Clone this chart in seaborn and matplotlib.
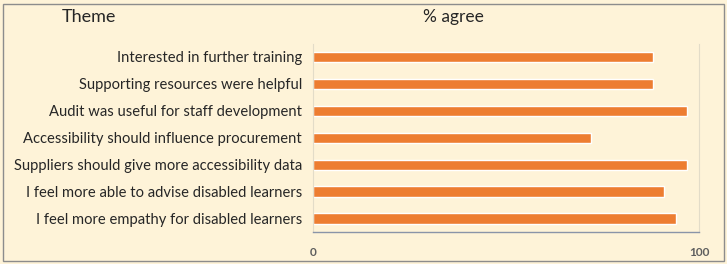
import matplotlib
matplotlib.use("Agg")
import matplotlib.pyplot as plt
import seaborn as sns
import pandas as pd
from matplotlib.patches import Rectangle

themes = [
    "Interested in further training",
    "Supporting resources were helpful",
    "Audit was useful for staff development",
    "Accessibility should influence procurement",
    "Suppliers should give more accessibility data",
    "I feel more able to advise disabled learners",
    "I feel more empathy for disabled learners",
]
agree = [88, 88, 97, 72, 97, 91, 94]
tick_values = [0, 10, 20, 30, 40, 50, 60, 70, 80, 90, 100]
tick_labels = ["0", "", "", "", "", "", "", "", "", "", "100"]

df = pd.DataFrame({"Theme": themes, "agree": agree})

sns.set_theme(style="white")
plt.rcParams["font.family"] = ["Lato", "DejaVu Sans"]

bg = "#FEF3D8"
fig = plt.figure(figsize=(7.27, 2.64), dpi=100, facecolor=bg)
ax = fig.add_axes([313 / 727, 1 - 232 / 264, (699 - 313) / 727, (232 - 43.5) / 264])
ax.set_facecolor(bg)

sns.barplot(data=df, x="agree", y="Theme", order=themes, color="#ED7D31",
            saturation=1, width=0.38, ax=ax)

ax.set_xlim(0, 100)
ax.set_ylim(6.5, -0.5)
ax.set_xticks(tick_values)
ax.set_xticklabels(tick_labels, fontsize=8.5, color="#5E5E5E", fontweight="bold")
ax.tick_params(axis="x", direction="in", length=3, width=0.8, color="#8A94A8", pad=11)
ax.tick_params(axis="y", length=0, labelsize=10.6, labelcolor="#262626", pad=8)
ax.set_xlabel("")
ax.set_ylabel("")

for s in ["left", "right"]:
    ax.spines[s].set_color("#E3DCC8")
    ax.spines[s].set_linewidth(0.8)
ax.spines["top"].set_visible(False)
ax.spines["bottom"].set_color("#8A94A8")
ax.spines["bottom"].set_linewidth(1.0)

fig.text(89 / 727, 1 - 17 / 264, "Theme", fontsize=13, color="#262626",
         ha="center", va="center")
fig.text(453 / 727, 1 - 17 / 264, "% agree", fontsize=12.5, color="#262626",
         ha="center", va="center")

fig.patches.append(Rectangle((3 / 727, 3 / 264), 721 / 727, 257 / 264,
                             transform=fig.transFigure, fill=False,
                             edgecolor="#8C8C8C", linewidth=1.0))

fig.savefig("out.png", dpi=100, facecolor=bg)
